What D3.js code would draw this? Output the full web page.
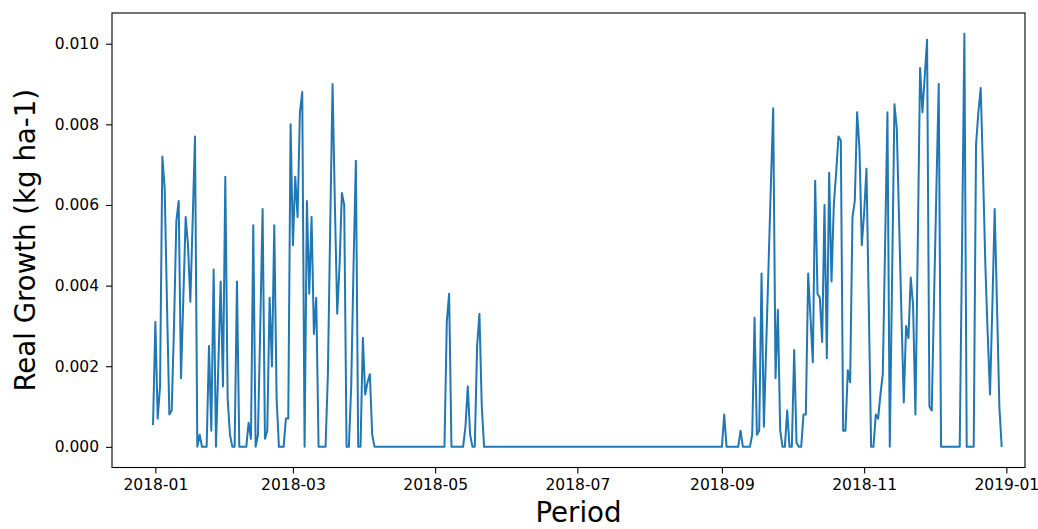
<!DOCTYPE html>
<html>
<head>
<meta charset="utf-8">
<script src="https://cdn.jsdelivr.net/npm/d3@7/dist/d3.min.js"></script>
<style>
  body { margin: 0; background: #fff; }
  text { font-family: "DejaVu Sans", sans-serif; }
</style>
</head>
<body>
<div id="chart"></div>
<script>
// first day of the daily series
var startDate = "2017-12-31";

// daily real growth (kg ha-1), one value per day
var growth = [
  0.00054, 0.0031, 0.0007, 0.0015, 0.0072, 0.0064, 0.0035, 0.0008, 0.0009, 0.0030,
  0.0056, 0.0061, 0.0017, 0.0037, 0.0057, 0.0050, 0.0036, 0.0056, 0.0077, 0,
  0.0003, 0, 0, 0, 0.0025, 0.0004, 0.0044, 0, 0.0020, 0.0041,
  0.0015, 0.0067, 0.0012, 0.0003, 0, 0, 0.0041, 0, 0, 0,
  0, 0.0006, 0.0002, 0.0055, 0, 0.0003, 0.0030, 0.0059, 0.0002, 0.0004,
  0.0037, 0.0020, 0.0055, 0.0012, 0, 0, 0, 0.0007, 0.0007, 0.0080,
  0.0050, 0.0067, 0.0057, 0.0083, 0.0088, 0, 0.0061, 0.0038, 0.0057, 0.0028,
  0.0037, 0, 0, 0, 0, 0.0018, 0.0055, 0.0090, 0.0060, 0.0033,
  0.0045, 0.0063, 0.0060, 0, 0, 0.0015, 0.0045, 0.0071, 0, 0,
  0.0027, 0.0013, 0.0016, 0.0018, 0.0003, 0, 0, 0, 0, 0,
  0, 0, 0, 0, 0, 0, 0, 0, 0, 0,
  0, 0, 0, 0, 0, 0, 0, 0, 0, 0,
  0, 0, 0, 0, 0, 0, 0.0031, 0.0038, 0, 0,
  0, 0, 0, 0, 0.0005, 0.0015, 0.0003, 0, 0, 0.0025,
  0.0033, 0.0010, 0, 0, 0, 0, 0, 0, 0, 0,
  0, 0, 0, 0, 0, 0, 0, 0, 0, 0,
  0, 0, 0, 0, 0, 0, 0, 0, 0, 0,
  0, 0, 0, 0, 0, 0, 0, 0, 0, 0,
  0, 0, 0, 0, 0, 0, 0, 0, 0, 0,
  0, 0, 0, 0, 0, 0, 0, 0, 0, 0,
  0, 0, 0, 0, 0, 0, 0, 0, 0, 0,
  0, 0, 0, 0, 0, 0, 0, 0, 0, 0,
  0, 0, 0, 0, 0, 0, 0, 0, 0, 0,
  0, 0, 0, 0, 0, 0, 0, 0, 0, 0,
  0, 0, 0, 0, 0, 0.0008, 0, 0, 0, 0,
  0, 0, 0.0004, 0, 0, 0, 0, 0.0003, 0.0032, 0.0003,
  0.0004, 0.0043, 0.0005, 0.0025, 0.0045, 0.0065, 0.0084, 0.0017, 0.0034, 0.0004,
  0, 0, 0.0009, 0, 0, 0.0024, 0.0001, 0, 0, 0.0008,
  0.0008, 0.0043, 0.0032, 0.0021, 0.0066, 0.0038, 0.0037, 0.0026, 0.0060, 0.0022,
  0.0068, 0.0041, 0.0060, 0.0068, 0.0077, 0.0076, 0.0004, 0.0004, 0.0019, 0.0016,
  0.0057, 0.0061, 0.0083, 0.0074, 0.0050, 0.0058, 0.0069, 0.0035, 0, 0,
  0.0008, 0.0007, 0.0013, 0.0018, 0.0050, 0.0083, 0, 0.0042, 0.0085, 0.0079,
  0.0056, 0.0033, 0.0011, 0.0030, 0.0027, 0.0042, 0.0035, 0.0008, 0.0050, 0.0094,
  0.0083, 0.0092, 0.0101, 0.0010, 0.0009, 0.0037, 0.0064, 0.0090, 0, 0,
  0, 0, 0, 0, 0, 0, 0, 0.0050, 0.01025, 0,
  0, 0, 0, 0.0075, 0.0083, 0.0089, 0.0068, 0.0045, 0.0028, 0.0013,
  0.0035, 0.0059, 0.0035, 0.0010, 0
];

// axis ticks
var xTicks = ["2018-01-01", "2018-03-01", "2018-05-01", "2018-07-01", "2018-09-01", "2018-11-01", "2019-01-01"];
var yTicks = [0, 0.002, 0.004, 0.006, 0.008, 0.010];

var svgWidth = 1038;
var svgHeight = 529;

var margin = { top: 13, right: 13, bottom: 61.5, left: 112 };
var chartWidth = svgWidth - margin.left - margin.right;
var chartHeight = svgHeight - margin.top - margin.bottom;

var parseDay = d3.timeParse("%Y-%m-%d");
var first = parseDay(startDate);

var series = growth.map(function(v, i) {
  return { date: d3.timeDay.offset(first, i), value: v };
});

var last = series[series.length - 1].date;
var dayMs = 864e5;

var svg = d3.select("#chart")
  .append("svg")
  .attr("width", svgWidth)
  .attr("height", svgHeight);

var chartGroup = svg.append("g")
  .attr("transform", `translate(${margin.left}, ${margin.top})`);

// x padding is not symmetric in the picture
var xScale = d3.scaleTime()
  .domain([new Date(first.getTime() - 17.6 * dayMs), new Date(last.getTime() + 10 * dayMs)])
  .range([0, chartWidth]);

var yMax = d3.max(growth);
var yPad = yMax * 0.05;
var yScale = d3.scaleLinear()
  .domain([-yPad, yMax + yPad])
  .range([chartHeight, 0]);

var line = d3.line()
  .x(d => xScale(d.date))
  .y(d => yScale(d.value));

chartGroup.append("path")
  .datum(series)
  .attr("fill", "none")
  .attr("stroke", "#1f77b4")
  .attr("stroke-width", 2)
  .attr("stroke-linejoin", "round")
  .attr("d", line);

// axes
var bottomAxis = d3.axisBottom(xScale)
  .tickValues(xTicks.map(parseDay))
  .tickFormat(d3.timeFormat("%Y-%m"))
  .tickSize(6)
  .tickPadding(5);

var leftAxis = d3.axisLeft(yScale)
  .tickValues(yTicks)
  .tickFormat(d3.format(".3f"))
  .tickSize(6)
  .tickPadding(7);

var xAxisG = chartGroup.append("g")
  .attr("transform", `translate(0, ${chartHeight})`)
  .call(bottomAxis);

var yAxisG = chartGroup.append("g")
  .call(leftAxis);

[xAxisG, yAxisG].forEach(function(g) {
  g.select(".domain").remove();
  g.selectAll(".tick line").attr("stroke", "#000").attr("stroke-width", 1.1);
  g.selectAll(".tick text")
    .attr("fill", "#000")
    .style("font-family", "'DejaVu Sans', sans-serif")
    .style("font-size", "15.5px");
});

// frame
chartGroup.append("rect")
  .attr("x", 0)
  .attr("y", 0)
  .attr("width", chartWidth)
  .attr("height", chartHeight)
  .attr("fill", "none")
  .attr("stroke", "#000")
  .attr("stroke-width", 1.1);

// axis labels
svg.append("text")
  .attr("x", margin.left + chartWidth / 2 + 10)
  .attr("y", 522)
  .attr("text-anchor", "middle")
  .attr("font-size", "27.6px")
  .attr("fill", "#000")
  .text("Period");

svg.append("text")
  .attr("transform", `translate(35, ${margin.top + chartHeight / 2}) rotate(-90)`)
  .attr("text-anchor", "middle")
  .attr("font-size", "27.6px")
  .attr("fill", "#000")
  .text("Real Growth (kg ha-1)");
</script>
</body>
</html>
